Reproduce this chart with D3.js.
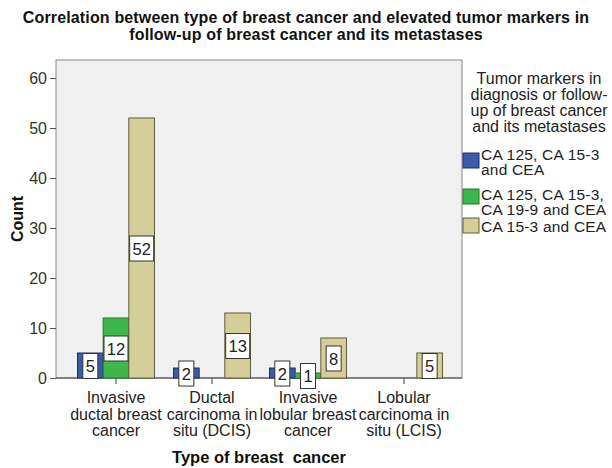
<!DOCTYPE html>
<html>
<head>
<meta charset="utf-8">
<script src="https://cdn.jsdelivr.net/npm/d3@7"></script>
<style>
  body { margin: 0; background: #fff; }
  svg { font-family: "Liberation Sans", Arial, sans-serif; }
</style>
</head>
<body>
<svg id="chart" width="612" height="468"></svg>
<script>
const categories = [
  ["Invasive", "ductal breast", "cancer"],
  ["Ductal", "carcinoma in", "situ (DCIS)"],
  ["Invasive", "lobular breast", "cancer"],
  ["Lobular", "carcinoma in", "situ (LCIS)"],
];
const seriesNames = [
  ["CA 125, CA 15-3", "and CEA"],
  ["CA 125, CA 15-3,", "CA 19-9 and CEA"],
  ["CA 15-3 and CEA"],
];
// counts per category, null = no bar
const ca125_153_cea = [5, 2, 2, null];
const ca125_153_199_cea = [12, null, 1, null];
const ca153_cea = [52, 13, 8, 5];
const yTicks = [0, 10, 20, 30, 40, 50, 60];

const fills = ["#3b5aa9", "#3db64b", "#d4cf99"];
const strokes = ["#1e2e6c", "#23772d", "#5f5d3a"];

const svg = d3.select("#chart");
const plot = { left: 56, right: 462, top: 60, bottom: 378 };

svg.append("rect")
  .attr("x", plot.left).attr("y", plot.top)
  .attr("width", plot.right - plot.left).attr("height", plot.bottom - plot.top)
  .attr("fill", "#f0f0f0").attr("stroke", "#888").attr("stroke-width", 1);

const x = d3.scaleBand().domain(d3.range(categories.length)).range([68, 452]);
const xs = d3.scaleBand().domain([0, 1, 2]).range([0, 77]);
const groupOffset = (x.bandwidth() - 77) / 2;
const y = d3.scaleLinear().domain([0, 60]).range([plot.bottom, 78]);

// y axis
const yAxis = svg.append("g")
  .attr("transform", `translate(${plot.left},0)`)
  .call(d3.axisLeft(y).tickValues(yTicks).tickSize(6).tickSizeOuter(0));
yAxis.select(".domain").remove();
yAxis.selectAll("line").attr("stroke", "#555");
yAxis.selectAll("text").attr("font-size", 16).attr("fill", "#333").attr("font-family", "Liberation Sans, Arial, sans-serif");

// x axis baseline + ticks
svg.append("line")
  .attr("x1", plot.left).attr("x2", plot.right)
  .attr("y1", plot.bottom).attr("y2", plot.bottom)
  .attr("stroke", "#444").attr("stroke-width", 1);
const xAxis = svg.append("g")
  .attr("transform", `translate(0,${plot.bottom})`)
  .call(d3.axisBottom(x).tickSize(6).tickFormat(""));
xAxis.select(".domain").remove();
xAxis.selectAll("line").attr("stroke", "#444");

categories.forEach((lines, i) => {
  const cx = x(i) + x.bandwidth() / 2;
  const t = svg.append("text")
    .attr("y", 403)
    .attr("text-anchor", "middle")
    .attr("font-size", 16).attr("fill", "#222");
  lines.forEach((l, k) => t.append("tspan").attr("x", cx).attr("y", 403 + k * 16.5).text(l));
});

const series = [ca125_153_cea, ca125_153_199_cea, ca153_cea];
series.forEach((vals, s) => {
  vals.forEach((v, i) => {
    if (v === null) return;
    const bx = x(i) + groupOffset + xs(s);
    svg.append("rect")
      .attr("x", bx).attr("y", y(v))
      .attr("width", xs.bandwidth()).attr("height", y(0) - y(v))
      .attr("fill", fills[s]).attr("stroke", strokes[s]).attr("stroke-width", 1);
  });
});

// value labels
series.forEach((vals, s) => {
  vals.forEach((v, i) => {
    if (v === null) return;
    const cx = x(i) + groupOffset + xs(s) + xs.bandwidth() / 2;
    const cy = (y(v) + y(0)) / 2;
    const w = String(v).length > 1 ? 24 : 15;
    svg.append("rect")
      .attr("x", cx - w / 2).attr("y", cy - 12)
      .attr("width", w).attr("height", 25)
      .attr("fill", "#fff").attr("stroke", "#333").attr("stroke-width", 1);
    svg.append("text")
      .attr("x", cx).attr("y", cy + 6.5)
      .attr("text-anchor", "middle").attr("font-size", 16.5).attr("fill", "#222")
      .text(v);
  });
});

// title
const title = svg.append("text").attr("text-anchor", "middle").attr("font-size", 16)
  .attr("font-weight", "bold").attr("fill", "#111").attr("letter-spacing", 0.15);
title.append("tspan").attr("x", 306).attr("y", 23).text("Correlation between type of breast cancer and elevated tumor markers in");
title.append("tspan").attr("x", 306).attr("y", 40).text("follow-up of breast cancer and its metastases");

// axis titles
svg.append("text")
  .attr("transform", `translate(23,219) rotate(-90)`)
  .attr("text-anchor", "middle").attr("font-size", 16).attr("font-weight", "bold").attr("fill", "#111")
  .text("Count");
svg.append("text")
  .attr("x", 259).attr("y", 463)
  .attr("text-anchor", "middle").attr("font-size", 16.5).attr("font-weight", "bold").attr("fill", "#111")
  .style("white-space", "pre")
  .text("Type of breast  cancer");

// legend
const legTitle = ["Tumor markers in", "diagnosis or follow-", "up of breast cancer", "and its metastases"];
const lt = svg.append("text").attr("text-anchor", "middle").attr("font-size", 16).attr("fill", "#222");
legTitle.forEach((l, k) => lt.append("tspan").attr("x", 539).attr("y", 84 + k * 16).text(l));

const legY = [153, 189, 218];
const legBase = [160, 200, 231.5];
seriesNames.forEach((lines, s) => {
  svg.append("rect")
    .attr("x", 463).attr("y", legY[s])
    .attr("width", 16).attr("height", 15)
    .attr("fill", fills[s]).attr("stroke", strokes[s]);
  const t = svg.append("text").attr("font-size", 15.5).attr("letter-spacing", 0.2).attr("fill", "#222");
  lines.forEach((l, k) => t.append("tspan").attr("x", 481).attr("y", legBase[s] + k * 15).text(l));
});
</script>
</body>
</html>
